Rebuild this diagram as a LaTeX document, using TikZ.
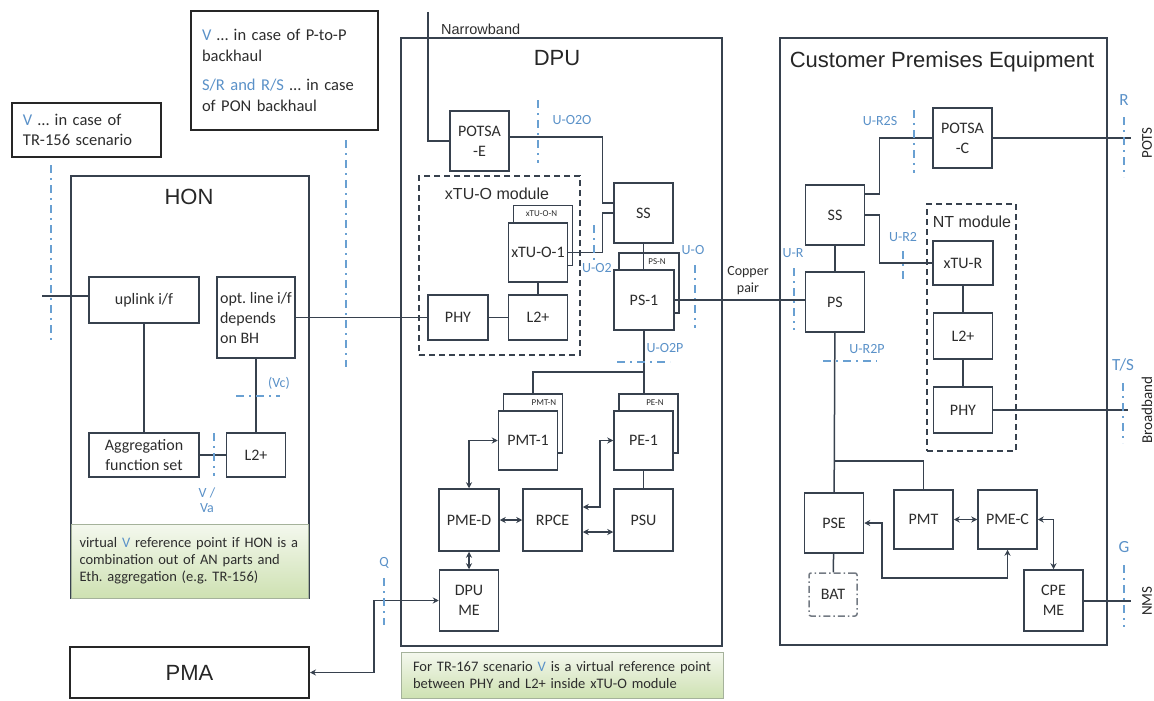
\documentclass[tikz,border=0pt]{standalone}
\usepackage{fontspec}
\setmainfont{Carlito}
\newfontfamily\arialfont{Liberation Sans}
\usepackage{xcolor}
\usepackage{tikz}
\usetikzlibrary{arrows.meta}

\definecolor{boxline}{RGB}{55,65,78}
\definecolor{boxtext}{RGB}{45,45,45}
\definecolor{refblue}{RGB}{105,160,210}
\definecolor{lblblue}{RGB}{90,145,200}
\definecolor{notetop}{RGB}{244,248,238}
\definecolor{notebot}{RGB}{206,225,178}
\definecolor{noteedge}{RGB}{165,178,155}

\begin{document}
\frenchspacing
\begin{tikzpicture}[x=1pt, y=-1pt,
  sz/.style 2 args={minimum width=#1pt, minimum height=#2pt},
  blk/.style={draw=boxline, line width=1.5pt, fill=white, text=boxtext, inner sep=1pt,
    align=center, font=\fontsize{16}{20}\selectfont},
  shd/.style={draw=boxline, line width=1.5pt, fill=white},
  frame/.style={draw=boxline, line width=2pt},
  modbox/.style={draw=boxline, line width=1.5pt, dash pattern=on 6pt off 4pt},
  batbox/.style={blk, draw=boxline!70, dash pattern=on 7pt off 3pt on 1.5pt off 3pt, rounded corners=2pt},
  title/.style={font=\arialfont\fontsize{22}{26}\selectfont, text=black!85, inner sep=0pt},
  modlbl/.style={font=\arialfont\fontsize{16}{19}\selectfont, text=boxtext, inner sep=0pt},
  tag/.style={font=\fontsize{14}{15}\selectfont, text=lblblue, inner sep=0pt, align=center},
  bigtag/.style={tag, font=\fontsize{17}{18}\selectfont},
  tiny/.style={font=\fontsize{9}{10}\selectfont, text=boxtext, inner sep=0pt},
  plain/.style={font=\fontsize{14}{17}\selectfont, text=boxtext, inner sep=0pt, align=center},
  sidelbl/.style={font=\fontsize{15}{17}\selectfont, text=black!85, inner sep=0pt, rotate=90},
  wire/.style={draw=boxline, line width=1.5pt},
  biarrow/.style={wire, {Stealth[length=6pt,width=6pt]}-{Stealth[length=6pt,width=6pt]}},
  refline/.style={draw=refblue, line width=2pt, dash pattern=on 8pt off 5pt on 2pt off 5pt},
  memo/.style={draw=black!85, line width=1.5pt, fill=white, align=left, text=boxtext,
    inner xsep=11pt, font=\fontsize{16.5}{20.5}\selectfont},
  greennote/.style={draw=noteedge, line width=1pt, top color=notetop, bottom color=notebot,
    align=left, text=boxtext, font=\fontsize{14.5}{17}\selectfont},
]
\useasboundingbox (0,0) rectangle (1154,701);

% notes at the top
\node[memo, minimum height=54pt, text width=127pt] (tripnote) at (86.5,130)
  {\textcolor{lblblue}{V} \ldots{} in case of\\TR-156 scenario};
\node[memo, minimum height=119pt, text width=165pt] (bhnote) at (284.5,70.5)
  {\textcolor{lblblue}{V} \ldots{} in case of P-to-P\\backhaul\\[9pt]\textcolor{lblblue}{S/R and R/S} \ldots{} in case\\of PON backhaul};

% HON
\node[frame, sz={238}{422}] (hon) at (190,387) {};
\node[title] (hontitle) at (189,197) {HON};
\node[blk, sz={110}{46}] (uplink) at (144,300) {uplink i/f};
\node[blk, sz={78}{81}, align=left] (optline) at (256,317.5)
  {opt. line i/f\\depends\\on BH};
\node[blk, sz={110}{44}] (aggr) at (144,455) {Aggregation\\function set};
\node[blk, sz={59}{44}] (honltwo) at (256,455) {L2+};
\node[greennote, minimum height=74pt, text width=220pt, inner xsep=8.5pt] (honnote) at (189.5,561)
  {virtual \textcolor{lblblue}{V} reference point if HON is a\\combination out of AN parts and\\Eth. aggregation (e.g. TR-156)};
\coordinate (uplinkin) at (42,296);
\draw[wire] (uplinkin) -- (uplinkin -| uplink.west);
\draw[wire] (uplink) -- (aggr);
\draw[wire] (optline) -- (honltwo);
\draw[wire] (aggr) -- (honltwo);
\draw[refline] (51,165) -- (51,343);
\draw[refline] (346,140) -- (346,367);
\draw[refline] (236,396) -- (280,396);
\draw[refline] (214,433) -- (214,476);
\node[tag] (vclbl) at (279,383) {(Vc)};
\node[tag] (valbl) at (207,500) {V /\\Va};

% PMA
\node[draw=black!85, line width=2pt, sz={239}{51}, title] (pma) at (189.5,672.5) {PMA};

% DPU
\node[frame, sz={321}{608}] (dpu) at (561.5,342) {};
\node[title] (dputitle) at (557,58) {DPU};
\node[modbox, sz={161}{179}] (xtuomod) at (499.5,265.5) {};
\node[modlbl] (xtuomodlbl) at (497,194) {xTU-O module};
\node[blk, sz={59}{60}] (potsae) at (479.5,141) {POTSA\\-E};
\node[blk, sz={59}{60}] (dss) at (643.5,213) {SS};
\node[shd, sz={59}{60}] (xtuon) at (543,235.5) {};
\node[tiny] (xtuontag) at (541.5,214) {xTU-O-N};
\node[blk, sz={59}{59}] (xtuoone) at (538,252.5) {xTU-O-1};
\node[blk, sz={59}{45}] (dltwo) at (538,317.5) {L2+};
\node[blk, sz={60}{45}] (dphy) at (458,317.5) {PHY};
\node[shd, sz={60}{60}] (psn) at (649,283) {};
\node[tiny] (psntag) at (657,262) {PS-N};
\node[blk, sz={60}{60}] (psone) at (644,300) {PS-1};
\node[shd, sz={59}{59}] (pmtn) at (533,423.5) {};
\node[tiny] (pmtntag) at (544,403) {PMT-N};
\node[blk, sz={59}{59}] (pmtone) at (528,440.5) {PMT-1};
\node[shd, sz={59}{59}] (pen) at (648.5,423.5) {};
\node[tiny] (pentag) at (655,403) {PE-N};
\node[blk, sz={59}{59}] (peone) at (643.5,440.5) {PE-1};
\node[blk, sz={60}{62}] (pmed) at (469,520) {PME-D};
\node[blk, sz={59}{62}] (rpce) at (552.5,520) {RPCE};
\node[blk, sz={59}{62}] (psu) at (643.5,520) {PSU};
\node[blk, sz={59}{61}] (dpume) at (469,600.5) {DPU\\ME};
\node[greennote, minimum height=46pt, text width=298pt, inner xsep=12pt] (dpunote) at (562,675)
  {For TR-167 scenario \textcolor{lblblue}{V} is a virtual reference point\\between PHY and L2+ inside xTU-O module};
\coordinate (nbtop) at (428,12);
\node[font=\arialfont\fontsize{14.5}{17}\selectfont, text=boxtext, inner sep=0pt, anchor=west] (nblbl) at (441,29) {Narrowband};
\draw[wire] (nbtop) |- (potsae.west);
\draw[wire] ([yshift=4pt]potsae.east) -| ([xshift=-11pt,yshift=10pt]dss.west) -- ([yshift=10pt]dss.west);
\draw[wire] (xtuoone.east) -| ([xshift=-11pt]dss.west) -- (dss.west);
\draw[wire] (xtuoone) -- (dltwo);
\draw[wire] (dphy) -- (dltwo);
\draw[wire] (optline) -- (dphy);
\draw[wire] (dss.south) -- (dss.south |- psone.north);
\draw[wire] (psone.south) -- (psone.south |- pen.north);
\draw[wire] (psone.south |- 0,372) -| (pmtn.north);
\draw[biarrow] (pmtone.west) -| (pmed.north);
\draw[biarrow] (peone.west) -| ([xshift=17pt,yshift=13pt]rpce.east) -- ([yshift=13pt]rpce.east);
\draw[biarrow] (pmed) -- (rpce);
\draw[biarrow] ([yshift=-12pt]rpce.east) -- ([yshift=-12pt]psu.west);
\draw[wire] (peone) -- (psu);
\draw[biarrow] (pmed) -- (dpume);
\draw[biarrow] (dpume.west) -| ([xshift=64pt]pma.east) -- (pma.east);
\draw[refline] (538,100) -- (538,163);
\draw[refline] (594,225) -- (594,260);
\draw[refline] (695,265) -- (695,328);
\draw[refline] (617,362) -- (670,362);
\draw[refline] (384,578) -- (384,625);
\node[tag] (uotwoolbl) at (572,120) {U-O2O};
\node[tag] (uotwolbl) at (597,268) {U-O2};
\node[tag] (uolbl) at (693,250) {U-O};
\node[tag] (uotwoplbl) at (665,348) {U-O2P};
\node[tag] (qlbl) at (384,563) {Q};

% copper pair between DPU and CPE
\node[plain] (copperlbl) at (748,281) {Copper\\pair};
\draw[refline] (794,268) -- (794,330);
\node[tag] (urlbl) at (793,253) {U-R};

% Customer Premises Equipment
\node[frame, sz={327}{607}] (cpe) at (943.5,341.5) {};
\node[title] (cpetitle) at (942,62) {Customer Premises Equipment};
\node[modbox, sz={89}{247}] (ntmod) at (971.5,327.5) {};
\node[modlbl] (ntmodlbl) at (972,222) {NT module};
\node[blk, sz={59}{60}] (potsac) at (962.5,138) {POTSA\\-C};
\node[blk, sz={59}{60}] (css) at (835,215) {SS};
\node[blk, sz={59}{60}] (cps) at (835,302) {PS};
\node[blk, sz={60}{44}] (xtur) at (963,263) {xTU-R};
\node[blk, sz={59}{46}] (cltwo) at (963,336) {L2+};
\node[blk, sz={59}{46}] (cphy) at (963,410) {PHY};
\node[blk, sz={59}{60}] (pse) at (834,523) {PSE};
\node[blk, sz={59}{59}] (pmt) at (923.5,519.5) {PMT};
\node[blk, sz={59}{59}] (pmec) at (1007.5,519.5) {PME-C};
\node[blk, sz={59}{61}] (cpeme) at (1053.5,600.5) {CPE\\ME};
\node[batbox, sz={48}{43}] (bat) at (833,594.5) {BAT};
\coordinate (potsend) at (1131,138);
\coordinate (bbend) at (1128,410);
\coordinate (nmsend) at (1131,601);
\draw[wire] (psone.east) -- (psone.east -| cps.west);
\draw[wire] ([yshift=21pt]css.east) -| ([xshift=-53pt]potsac.west) -- (potsac.west);
\draw[wire] (css.east) -| ([xshift=-53pt]xtur.west) -- (xtur.west);
\draw[wire] (potsac.east) -- (potsend);
\draw[wire] (css) -- (cps);
\draw[wire] (cps) -- (pse);
\draw[wire] (cps.south |- 0,461) -| (pmt.north);
\draw[wire] (xtur) -- (cltwo);
\draw[wire] (cltwo) -- (cphy);
\draw[wire] (cphy.east) -- (bbend);
\draw[biarrow] (pmt) -- (pmec);
\draw[biarrow] (pmec.south) |- ([xshift=17.5pt,yshift=-55pt]pse.east) |- (pse.east);
\draw[biarrow] (pmec.east) -| (cpeme.north);
\draw[wire] (cpeme.east |- nmsend) -- (nmsend);
\draw[wire] (pse) -- (bat);
\draw[refline] (914,110) -- (914,173);
\draw[refline] (903,251) -- (903,283);
\draw[refline] (823,361) -- (877,361);
\draw[refline] (1124,117) -- (1124,177);
\draw[refline] (1123,383) -- (1123,443);
\draw[refline] (1124,565) -- (1124,627);
\node[tag] (urtwoslbl) at (880,121) {U-R2S};
\node[tag] (urtwolbl) at (903,237) {U-R2};
\node[tag] (urtwoplbl) at (867,349) {U-R2P};
\node[bigtag] (rlbl) at (1124,100) {R};
\node[bigtag] (tslbl) at (1123,365) {T/S};
\node[bigtag] (glbl) at (1124,547) {G};
\node[sidelbl] (potslbl) at (1147,143) {POTS};
\node[sidelbl] (bblbl) at (1147,410) {Broadband};
\node[sidelbl] (nmslbl) at (1147,601) {NMS};
\end{tikzpicture}
\end{document}
